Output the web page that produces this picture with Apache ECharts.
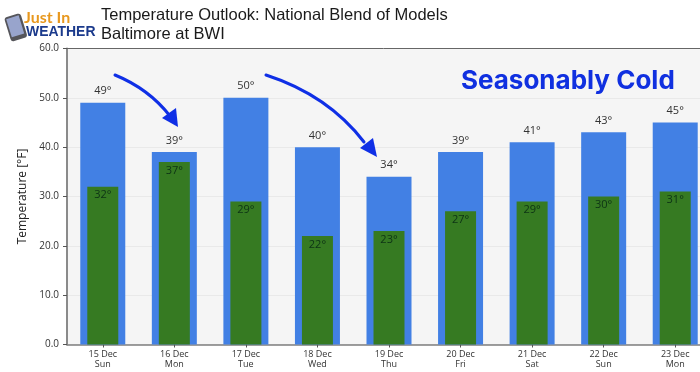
<!DOCTYPE html>
<html><head><meta charset="utf-8">
<style>html,body{margin:0;padding:0;background:#fff}#c{width:700px;height:372px}</style>
<script src="https://cdn.jsdelivr.net/npm/echarts@6/dist/echarts.min.js"></script>
</head><body><div id="c"></div>
<script>
const dates = ['15 Dec','16 Dec','17 Dec','18 Dec','19 Dec','20 Dec','21 Dec','22 Dec','23 Dec'];
const days = ['Sun','Mon','Tue','Wed','Thu','Fri','Sat','Sun','Mon'];
const highs = [49,39,50,40,34,39,41,43,45];
const lows = [32,37,29,22,23,27,29,30,31];
const titleLines = ['Temperature Outlook: National Blend of Models','Baltimore at BWI'];
const yAxisName = 'Temperature [°F]';
const note = 'Seasonably Cold';
const categories = dates.map((d,i)=>d+'\n'+days[i]);
const arrowBlue = '#0f2fe6';
const tickFont = 'Open Sans';
function arrow(x0,y0,c1x,c1y,c2x,c2y,x1,y1,tip,b1,b2){
  return [
    {type:'bezierCurve',z:50,shape:{x1:x0,y1:y0,cpx1:c1x,cpy1:c1y,cpx2:c2x,cpy2:c2y,x2:x1,y2:y1},
     style:{stroke:arrowBlue,lineWidth:3,fill:null,lineCap:'round'}},
    {type:'polygon',z:50,shape:{points:[tip,b1,b2]},style:{fill:arrowBlue}}
  ];
}
const chart = echarts.init(document.getElementById('c'),null,{renderer:'canvas'});
chart.setOption({
  animation:false,
  backgroundColor:'#fff',
  grid:{left:67,width:644,top:48.5,height:296,outerBoundsMode:'none',show:true,backgroundColor:'#f5f5f5',borderWidth:0},
  xAxis:[0,1].map(i=>({
    type:'category',data:categories,show:i===0,
    axisLine:{show:true,lineStyle:{color:'#7f7f7f',width:1.5}},
    axisTick:{show:true,alignWithLabel:true,length:3,lineStyle:{color:'#555'}},
    axisLabel:{interval:0,color:'#333',fontFamily:tickFont,fontSize:9,lineHeight:10,margin:5}
  })),
  yAxis:{
    type:'value',min:0,max:60,interval:10,
    name:yAxisName,nameLocation:'middle',nameGap:24,
    nameTextStyle:{fontFamily:tickFont,fontSize:12,color:'#222'},
    axisLine:{show:true,lineStyle:{color:'#8a8a8a',width:2}},
    axisTick:{show:true,length:4,lineStyle:{color:'#555'}},
    axisLabel:{color:'#333',fontFamily:tickFont,fontSize:10,margin:8,formatter:v=>v.toFixed(1)},
    splitLine:{show:true,lineStyle:{color:'#e9e9e9',width:1}}
  },
  series:[
    {type:'bar',name:'High',xAxisIndex:0,data:highs,barWidth:45,itemStyle:{color:'#4280e4'},z:2,
     label:{show:true,position:'top',distance:6,formatter:'{c}°',color:'#333',fontFamily:tickFont,fontSize:11}},
    {type:'bar',name:'Low',xAxisIndex:1,data:lows,barWidth:31,itemStyle:{color:'#367a22'},z:3,
     label:{show:true,position:'insideTop',distance:3,formatter:'{c}°',color:'#0d3315',fontFamily:tickFont,fontSize:11}}
  ],
  graphic:[
    {type:'line',z:20,shape:{x1:67,y1:48.5,x2:700,y2:48.5},style:{stroke:'#666',lineWidth:1}},
    {type:'text',z:30,x:101,y:7,style:{text:titleLines[0],font:'16.5px "Liberation Sans"',fill:'#1a1a1a'}},
    {type:'text',z:30,x:101,y:26,style:{text:titleLines[1],font:'16.5px "Liberation Sans"',fill:'#1a1a1a'}},
    {type:'text',z:30,x:461,y:68,style:{text:note,font:'bold 26px "Inter"',fill:'#1030e0'}},
    // logo
    {type:'rect',z:30,rotation:0.3,x:4,y:18,shape:{x:0,y:0,width:17,height:25,r:3},style:{fill:'#55555a'}},
    {type:'rect',z:31,rotation:0.3,x:6.2,y:19.2,shape:{x:0,y:0,width:13,height:19},style:{fill:'#98a4cc'}},
    {type:'text',z:30,x:24,y:10,style:{text:'Just In',font:'bold 16px "Lato"',fill:'#e8981e'}},
    {type:'text',z:32,x:26,y:24,scaleX:0.9,style:{text:'WEATHER',font:'bold 15.5px "Liberation Sans"',fill:'#1b3a8c'}},
    ...arrow(115,75,137,84,156,98,170,116,[178,127],[162,118],[176,108]),
    ...arrow(266,75,303,87,338,108,364,142,[377,157],[360,148],[373,138])
  ]
});
</script></body></html>
